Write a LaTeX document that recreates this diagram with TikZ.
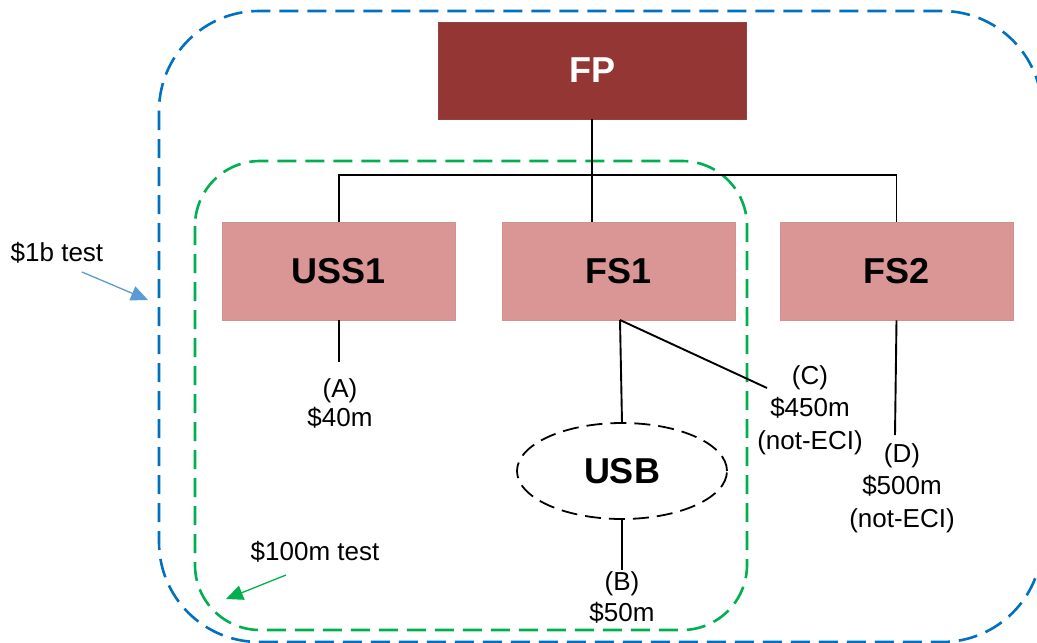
\documentclass[tikz,border=0pt]{standalone}
\usepackage{fontspec}
\setmainfont{Liberation Sans}
\usetikzlibrary{arrows.meta,shapes.geometric}
\definecolor{fpred}{HTML}{943634}
\definecolor{spink}{HTML}{D99694}
\definecolor{oblue}{HTML}{0070C0}
\definecolor{ogreen}{HTML}{00B050}
\definecolor{arblue}{HTML}{5B9BD5}
\tikzset{
  bigbox/.style={draw=oblue, line width=2.6pt, dash pattern=on 19pt off 9pt, rounded corners=100pt},
  smallbox/.style={draw=ogreen, line width=2.6pt, dash pattern=on 19pt off 9pt, rounded corners=65pt},
  entity/.style={fill=spink, draw=spink!85!gray, line width=0.6pt, inner sep=0pt, minimum width=233pt, minimum height=98pt, font=\fontsize{36}{40}\selectfont\bfseries},
  parent/.style={entity, fill=fpred, draw=fpred!80!gray, text=white, minimum width=308pt, minimum height=97pt},
  usbell/.style={ellipse, draw=black, line width=1.8pt, dash pattern=on 16pt off 8pt, minimum width=210pt, minimum height=96pt, inner sep=0pt, font=\fontsize{36}{40}\selectfont\bfseries},
  lbl/.style={align=center, inner sep=0pt, font=\fontsize{26}{31}\selectfont},
  conn/.style={draw=black, line width=1.9pt},
  callout/.style={line width=1.3pt, -{Triangle[length=17pt,width=15pt]}}
}
\begin{document}
\begin{tikzpicture}[x=1pt,y=-1pt]
\useasboundingbox (0,0) rectangle (1037,643);
% boundaries
\draw[bigbox] (159,11) rectangle (1042,642);
\draw[smallbox] (195,161) rectangle (747,630);
% entities
\node[parent] (FP) at (592,70.5) {FP};
\node[entity] (USS1) at (338.5,271) {USS1};
\node[entity] (FS1) at (618.5,271) {FS1};
\node[entity] (FS2) at (896.5,271) {FS2};
\node[usbell] (USB) at (622,471) {USB};
% connector ends
\coordinate (bus) at (592,175);
\coordinate (eA) at (339,362);
\coordinate (eB) at (622,570);
\coordinate (eC) at (767,388);
\coordinate (eD) at (895,435);
\coordinate (fs1b) at (620,320);
% tree connectors
\draw[conn] (FP.south) -- (FP.south |- FS1.north);
\draw[conn] (USS1.north -| eA) |- (bus) -| (FS2.north);
\draw[conn] (USS1.south -| eA) -- (eA);
\draw[conn] (fs1b) -- (USB.north);
\draw[conn] (fs1b) -- (eC);
\draw[conn] (USB.south) -- (eB);
\draw[conn] (FS2.south) -- (eD);
% amount labels
\node[lbl, font=\fontsize{26}{29}\selectfont] (lA) at (340,403) {(A)\\\$40m};
\node[lbl] (lB) at (622,597) {(B)\\\$50m};
\node[lbl, font=\fontsize{26}{32.5}\selectfont] (lC) at (810,410) {(C)\\\$450m\\(not-ECI)};
\node[lbl, font=\fontsize{26}{32.5}\selectfont] (lD) at (902,488) {(D)\\\$500m\\(not-ECI)};
% test labels and callouts
\node[lbl] (t1) at (57,253) {\$1b test};
\node[lbl] (t2) at (315,552) {\$100m test};
\coordinate (a1s) at (82,272);
\coordinate (a1e) at (148,300);
\coordinate (a2s) at (286,575);
\coordinate (a2e) at (226,599);
\draw[callout, draw=arblue, fill=arblue] (a1s) -- (a1e);
\draw[callout, draw=ogreen, fill=ogreen] (a2s) -- (a2e);
\end{tikzpicture}
\end{document}
